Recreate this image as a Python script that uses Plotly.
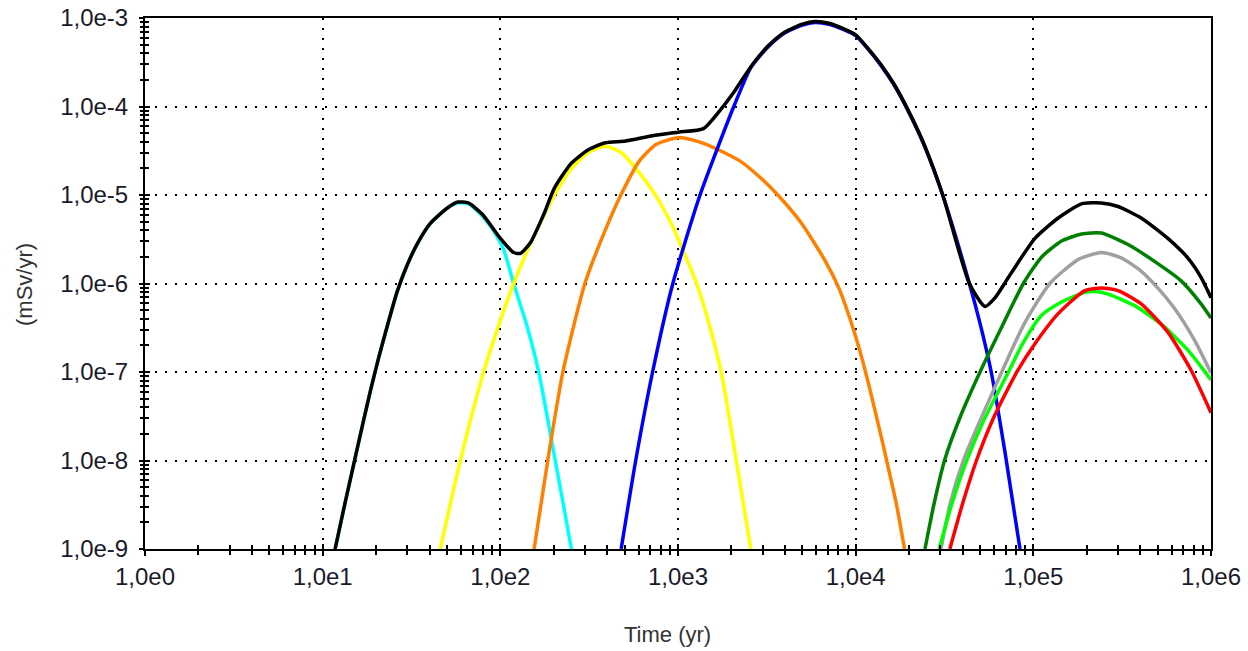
import plotly.graph_objects as go

# ---- data: log10(time in yr) and log10(dose in mSv/yr) ----
x_ticks = [1, 10, 100, 1000, 10000, 100000, 1000000]
x_ticktext = ["1,0e0", "1,0e1", "1,0e2", "1,0e3", "1,0e4", "1,0e5", "1,0e6"]
y_ticks = [1e-9, 1e-8, 1e-7, 1e-6, 1e-5, 1e-4, 1e-3]
y_ticktext = ["1,0e-9", "1,0e-8", "1,0e-7", "1,0e-6", "1,0e-5", "1,0e-4", "1,0e-3"]

cyan_lt = [1.07, 1.127, 1.174, 1.23, 1.268, 1.315, 1.361, 1.418, 1.474, 1.53, 1.606, 1.70, 1.76, 1.82,
           1.90, 1.96, 2.019, 2.075, 2.15, 2.216, 2.30, 2.355, 2.40]
cyan_lv = [-9.0, -8.47, -8.05, -7.55, -7.22, -6.84, -6.50, -6.10, -5.80, -5.56, -5.32, -5.15, -5.09, -5.10,
           -5.24, -5.40, -5.62, -6.0, -6.48, -7.0, -7.9, -8.5, -9.0]

yellow_lt = [1.662, 1.775, 1.906, 2.0, 2.075, 2.15, 2.244, 2.305, 2.40, 2.495, 2.59, 2.68, 2.762, 2.876,
             2.971, 3.029, 3.105, 3.181, 3.248, 3.324, 3.41]
yellow_lv = [-9.0, -8.0, -7.0, -6.42, -6.0, -5.64, -5.24, -5.0, -4.70, -4.52, -4.45, -4.52, -4.70, -5.01,
             -5.36, -5.63, -6.0, -6.5, -7.05, -7.95, -9.0]

orange_lt = [2.19, 2.267, 2.352, 2.476, 2.59, 2.686, 2.781, 2.876, 3.01, 3.162, 3.352, 3.45, 3.562, 3.695,
             3.83, 3.905, 3.96, 4.0, 4.04, 4.071, 4.146, 4.18, 4.23, 4.275]
orange_lv = [-9.0, -8.0, -7.0, -6.0, -5.40, -4.97, -4.62, -4.43, -4.35, -4.43, -4.62, -4.78, -5.0, -5.32,
             -5.75, -6.05, -6.35, -6.6, -6.88, -7.12, -7.75, -8.05, -8.5, -9.0]

blue_lt = [2.68, 2.762, 2.857, 2.971, 3.124, 3.314, 3.41, 3.505, 3.60, 3.70, 3.771, 3.85, 3.93, 4.0,
           4.06, 4.14, 4.22, 4.31, 4.39, 4.49, 4.64, 4.70, 4.763, 4.84, 4.925]
blue_lv = [-9.0, -8.0, -7.0, -6.0, -5.0, -4.0, -3.56, -3.33, -3.17, -3.08, -3.05, -3.07, -3.13, -3.20,
           -3.33, -3.53, -3.77, -4.11, -4.46, -5.0, -6.0, -6.45, -7.0, -7.9, -9.0]

dgreen_lt = [4.39, 4.44, 4.50, 4.59, 4.70, 4.82, 4.944, 5.047, 5.159, 5.271, 5.383, 5.533, 5.682, 5.832,
             5.944, 6.0]
dgreen_lv = [-9.0, -8.5, -8.0, -7.5, -7.0, -6.5, -6.0, -5.70, -5.52, -5.44, -5.43, -5.56, -5.75, -5.97,
             -6.23, -6.39]

gray_lt = [4.48, 4.53, 4.606, 4.70, 4.822, 4.95, 5.093, 5.252, 5.383, 5.495, 5.60, 5.70, 5.794, 5.907, 6.0]
gray_lv = [-9.0, -8.5, -8.0, -7.55, -7.0, -6.45, -6.0, -5.73, -5.65, -5.71, -5.85, -6.05, -6.28, -6.64, -7.01]

lime_lt = [4.47, 4.54, 4.625, 4.72, 4.86, 4.94, 5.047, 5.159, 5.29, 5.35, 5.421, 5.57, 5.72, 5.869, 6.0]
lime_lv = [-9.0, -8.5, -8.0, -7.55, -7.0, -6.68, -6.36, -6.21, -6.10, -6.09, -6.12, -6.25, -6.46, -6.75, -7.09]

red_lt = [4.53, 4.60, 4.68, 4.78, 4.907, 5.009, 5.14, 5.29, 5.383, 5.477, 5.607, 5.757, 5.888, 6.0]
red_lv = [-9.0, -8.5, -8.0, -7.5, -7.0, -6.68, -6.34, -6.08, -6.05, -6.08, -6.23, -6.55, -6.98, -7.46]

black_lt = [1.07, 1.127, 1.174, 1.23, 1.268, 1.315, 1.361, 1.418, 1.474, 1.53, 1.606, 1.70, 1.76, 1.82,
            1.90, 2.0, 2.075, 2.113, 2.169, 2.244, 2.305, 2.40, 2.495, 2.59, 2.705, 2.857, 3.0, 3.143,
            3.238, 3.314, 3.41, 3.505, 3.60, 3.70, 3.771, 3.85, 3.93, 4.0, 4.06, 4.14, 4.22, 4.31, 4.39,
            4.49, 4.64, 4.728, 4.785, 4.86, 5.009, 5.14, 5.271, 5.383, 5.477, 5.607, 5.757, 5.869, 5.944, 6.0]
black_lv = [-9.0, -8.47, -8.05, -7.55, -7.22, -6.84, -6.50, -6.10, -5.80, -5.56, -5.32, -5.15, -5.08, -5.09,
            -5.22, -5.49, -5.65, -5.66, -5.54, -5.22, -4.92, -4.64, -4.49, -4.41, -4.39, -4.33, -4.29, -4.25,
            -4.04, -3.84, -3.55, -3.32, -3.16, -3.07, -3.04, -3.06, -3.12, -3.19, -3.32, -3.52, -3.76, -4.10,
            -4.45, -5.0, -6.0, -6.26, -6.16, -5.93, -5.49, -5.26, -5.10, -5.09, -5.13, -5.26, -5.49, -5.71,
            -5.93, -6.16]

series = [
    ("cyan", cyan_lt, cyan_lv, "#00FFFF"),
    ("yellow", yellow_lt, yellow_lv, "#FFFF00"),
    ("orange", orange_lt, orange_lv, "#FF8000"),
    ("blue", blue_lt, blue_lv, "#0000FF"),
    ("dgreen", dgreen_lt, dgreen_lv, "#008000"),
    ("gray", gray_lt, gray_lv, "#A0A0A0"),
    ("lime", lime_lt, lime_lv, "#00FF00"),
    ("red", red_lt, red_lv, "#FF0000"),
    ("total", black_lt, black_lv, "#000000"),
]

FONT = "Liberation Sans, Arial, sans-serif"
fig = go.Figure()
for name, lt, lv, col in series:
    fig.add_trace(go.Scatter(
        x=[10 ** v for v in lt], y=[10 ** v for v in lv], mode="lines", name=name,
        line=dict(color=col, width=3.5, shape="spline", smoothing=0.6),
        showlegend=False, hoverinfo="skip"))

# empty traces for the overlay axes (crossing tick marks)
fig.add_trace(go.Scatter(x=[], y=[], xaxis="x2", yaxis="y2", showlegend=False))
fig.add_trace(go.Scatter(x=[], y=[], xaxis="x", yaxis="y3", showlegend=False))

x_minor = [m * 10 ** d for d in range(0, 6) for m in range(2, 10)]
y_minor = [m * 10.0 ** d for d in range(-9, -3) for m in range(2, 10)]

grid = dict(showgrid=True, gridcolor="black", gridwidth=2, griddash="2px,8px")
line = dict(showline=True, linecolor="black", linewidth=2, mirror=True)
tickfont = dict(family=FONT, size=24, color="#1a1a2a")
bare = dict(showticklabels=False, showgrid=False, showline=False, zeroline=False, automargin=False)


def minor(vals, side):
    return dict(tickmode="array", tickvals=vals, ticks=side, ticklen=4, tickwidth=1.5,
                tickcolor="black", showgrid=False)


L, R, T, B = 145, 37, 18, 102
W, H = 1248, 651
pw, ph = W - L - R, H - T - B

fig.update_layout(
    width=W, height=H,
    margin=dict(l=L, r=R, t=T, b=B),
    paper_bgcolor="white", plot_bgcolor="white",
    xaxis=dict(type="log", range=[0, 6], tickmode="array", tickvals=x_ticks, ticktext=x_ticktext,
               ticks="outside", ticklen=5, tickwidth=1.5, tickcolor="black",
               minor=minor(x_minor, "outside"), tickfont=tickfont, automargin=False,
               ticklabeloverflow="allow", zeroline=False, **grid, **line),
    yaxis=dict(type="log", range=[-9, -3], tickmode="array", tickvals=y_ticks, ticktext=y_ticktext,
               ticks="outside", ticklen=10, tickwidth=1, tickcolor="rgba(0,0,0,0)",
               tickfont=tickfont, automargin=False,
               ticklabeloverflow="allow", zeroline=False, **grid, **line),
    xaxis2=dict(type="log", range=[0, 6], overlaying="x", anchor="y", side="bottom",
                tickmode="array", tickvals=x_ticks, ticks="inside", ticklen=5, tickwidth=1.5,
                tickcolor="black", minor=minor(x_minor, "inside"), **bare),
    yaxis2=dict(type="log", range=[-9, -3], overlaying="y", anchor="x", side="left",
                tickmode="array", tickvals=y_ticks, ticks="inside", ticklen=5, tickwidth=1.5,
                tickcolor="black", minor=minor(y_minor, "inside"), **bare),
    yaxis3=dict(type="log", range=[-9, -3], overlaying="y", anchor="x", side="left",
                tickmode="array", tickvals=y_ticks, ticks="outside", ticklen=5, tickwidth=1.5,
                tickcolor="black", minor=minor(y_minor, "outside"), **bare),
    annotations=[
        dict(text="Time (yr)", xref="paper", yref="paper", x=(667 - L) / pw, y=(H - B - 634) / ph,
             xanchor="center", yanchor="middle", showarrow=False,
             font=dict(family=FONT, size=22, color="#333333")),
        dict(text="(mSv/yr)", xref="paper", yref="paper", x=(25 - L) / pw, y=(H - B - 285) / ph,
             xanchor="center", yanchor="middle", showarrow=False, textangle=-90,
             font=dict(family=FONT, size=22, color="#333333")),
    ],
)

# remove the default 8px page margin so the figure fills the 1248x651 window exactly
fig.write_html("out.html", config={"displayModeBar": False},
               post_script="document.body.style.margin='0';document.documentElement.style.overflow='hidden';")
